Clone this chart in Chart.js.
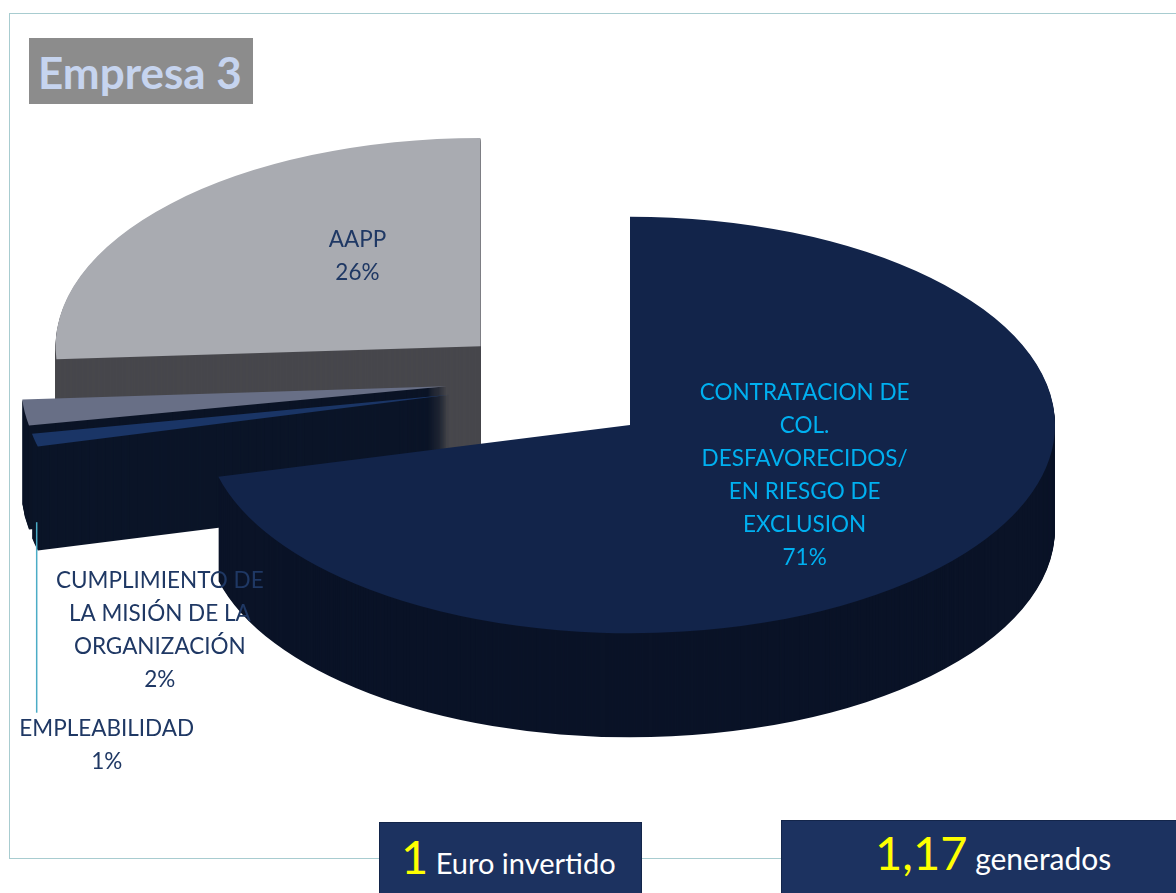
<!DOCTYPE html>
<html lang="es">
<head>
<meta charset="utf-8">
<script src="https://cdn.jsdelivr.net/npm/chart.js@4.4.1/dist/chart.umd.min.js"></script>
<style>
  body { margin: 0; width: 1176px; height: 893px; overflow: hidden; background: #fff; position: relative; font-family: Lato, "Open Sans", sans-serif; }
  #frame { position: absolute; left: 9px; top: 13px; width: 1200px; height: 846px; border: 1px solid #a8ccd0; box-sizing: border-box; }
  #graph { position: absolute; left: 0; top: 0; }
  #title { position: absolute; left: 29px; top: 38px; width: 224px; height: 66px; background: #8c8c8c; color: #c6d4ef; font-weight: bold; font-size: 44px; line-height: 68px; padding-left: 9px; box-sizing: border-box; white-space: nowrap; }
  .box { position: absolute; background: #1c3260; border: 1px solid #13254a; color: #fff; box-sizing: border-box; white-space: nowrap; }
  .box .big { color: #ffff00; font-size: 47px; }
  #box1 { left: 379px; top: 822px; width: 263px; height: 80px; padding: 5px 0 0 21px; font-size: 29px; }
  #box2 { left: 781px; top: 820px; width: 400px; height: 80px; padding: 3px 0 0 93px; font-size: 30px; }
</style>
</head>
<body>
<div id="frame"></div>
<canvas id="graph" width="1176" height="893"></canvas>
<div id="title">Empresa 3</div>
<div class="box" id="box1"><span class="big">1</span> Euro invertido</div>
<div class="box" id="box2"><span class="big">1,17</span> generados</div>
<script>
const categories = [
  "CONTRATACION DE COL. DESFAVORECIDOS/ EN RIESGO DE EXCLUSION",
  "EMPLEABILIDAD",
  "CUMPLIMIENTO DE LA MISIÓN DE LA ORGANIZACIÓN",
  "AAPP"
];
const shares = [71, 1, 2, 26];

// label text as it wraps in the original
const labelLines = [
  ["CONTRATACION DE", "COL.", "DESFAVORECIDOS/", "EN RIESGO DE", "EXCLUSION"],
  ["EMPLEABILIDAD"],
  ["CUMPLIMIENTO DE", "LA MISIÓN DE LA", "ORGANIZACIÓN"],
  ["AAPP"]
];

const topColors = ["#12244a", "#1a3566", "#686f86", "#a9abb1"];
const sideColors = ["#0a1327", "#0b1528", "#0b1426", "#47474c"];
const labelColors = ["#00b0f0", "#1f3864", "#1f3864", "#1f3864"];

// fake 3D settings
const SQUASH = 0.49;
const DEPTH = 104;
const LINE = 33;
const explode = [0, 185, 185, 205];
const lift = [0, -50, -50, -10];
// [radius fraction, dx, dy] for each label
const labelPlace = [[0.52, 0, -16], [1, 72, 305], [1, 135, 218], [0.42, 7, -30]];

const explodePlugin = {
  id: "explode",
  afterDatasetUpdate(chart, args) {
    const meta = chart.getDatasetMeta(args.index);
    meta.data.forEach((arc, i) => {
      const mid = (arc.startAngle + arc.endAngle) / 2;
      arc.x += Math.cos(mid) * explode[i];
      arc.y += Math.sin(mid) * explode[i] + lift[i] / SQUASH;
    });
  }
};

const depthPlugin = {
  id: "depth",
  beforeDatasetsDraw(chart) {
    const ctx = chart.ctx;
    const area = chart.chartArea;
    const cx = (area.left + area.right) / 2;
    const cy = (area.top + area.bottom) / 2;
    const arcs = chart.getDatasetMeta(0).data;
    ctx.save();
    ctx.translate(cx, cy);
    ctx.scale(1, SQUASH);
    ctx.translate(-cx, -cy);
    // back slices first
    const order = arcs.map((a, i) => i).sort((a, b) => arcs[a].y - arcs[b].y);
    order.forEach((i) => {
      const arc = arcs[i];
      ctx.fillStyle = sideColors[i];
      for (let d = DEPTH; d > 0; d--) {
        const y = arc.y + d / SQUASH;
        ctx.beginPath();
        ctx.moveTo(arc.x, y);
        ctx.arc(arc.x, y, arc.outerRadius, arc.startAngle, arc.endAngle);
        ctx.closePath();
        ctx.fill();
      }
    });
  },
  afterDatasetsDraw(chart) {
    chart.ctx.restore();
  }
};

const labelPlugin = {
  id: "sliceLabels",
  afterDraw(chart) {
    const ctx = chart.ctx;
    const area = chart.chartArea;
    const cy = (area.top + area.bottom) / 2;
    const arcs = chart.getDatasetMeta(0).data;
    ctx.save();
    ctx.font = "22.5px Lato";
    ctx.textAlign = "center";
    ctx.textBaseline = "middle";
    arcs.forEach((arc, i) => {
      const [f, dx, dy] = labelPlace[i];
      const mid = (arc.startAngle + arc.endAngle) / 2;
      const px = arc.x + Math.cos(mid) * arc.outerRadius * f;
      const py = arc.y + Math.sin(mid) * arc.outerRadius * f;
      const sx = px + dx;
      const sy = cy + (py - cy) * SQUASH + dy;
      const lines = [...labelLines[i], shares[i] + "%"];
      const first = sy - ((lines.length - 1) * LINE) / 2;
      ctx.fillStyle = labelColors[i];
      lines.forEach((t, k) => ctx.fillText(t, sx, first + k * LINE));
      if (i === 1) {
        // leader line for the thin slice
        const ox = px + 2;
        const oy = cy + (py - cy) * SQUASH;
        ctx.strokeStyle = "#4bacc6";
        ctx.lineWidth = 1.5;
        ctx.beginPath();
        ctx.moveTo(ox, oy + 82);
        ctx.lineTo(ox, first - 16);
        ctx.stroke();
      }
    });
    ctx.restore();
  }
};

const ctx = document.getElementById("graph").getContext("2d");
const chart = new Chart(ctx, {
  type: "pie",
  data: {
    labels: categories,
    datasets: [
      {
        data: shares,
        backgroundColor: topColors,
        borderWidth: 0,
        radius: 425,
        clip: false
      }
    ]
  },
  options: {
    responsive: false,
    animation: false,
    events: [],
    layout: { padding: { left: 84, right: 0, top: 0, bottom: 43 } },
    plugins: {
      legend: { display: false },
      tooltip: { enabled: false }
    }
  },
  plugins: [explodePlugin, depthPlugin, labelPlugin]
});
</script>
</body>
</html>
